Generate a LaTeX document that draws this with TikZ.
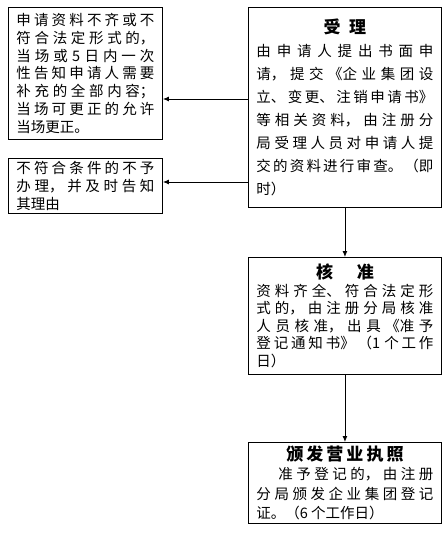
\documentclass[tikz,border=0pt]{standalone}
\usepackage{fontspec}
\setmainfont{Noto Sans CJK SC}
\XeTeXlinebreaklocale "zh"
\XeTeXlinebreakskip=0pt plus 6pt
\tolerance=10000
\hbadness=10000
\usetikzlibrary{arrows.meta}

\begin{document}
\begin{tikzpicture}[x=1pt,y=-1pt,line width=0.9pt,
    every node/.style={draw,rectangle,anchor=north west,align=justify,inner xsep=8pt,inner ysep=0pt},
    bigbox/.style={text width=177pt},
    sidebox/.style={text width=138pt,font={\fontsize{14.5pt}{17.8pt}\selectfont}},
    arr/.style={-{Latex[length=6pt,width=5pt]}}
    ]
    \useasboundingbox (0,0) rectangle (445,533);

    \node (accept) [bigbox,minimum height=200pt,font={\fontsize{14.5pt}{23pt}\selectfont}] at (248,7)
      {\centerline{\fontsize{17pt}{17pt}\selectfont\bfseries 受\hspace{0.5em}理}
       由申请人提出书面申\linebreak
       请，提交《企业集团设\linebreak
       立、变更、注销申请书》\linebreak
       等相关资料，由注册分\linebreak
       局受理人员对申请人提\linebreak
       交的资料进行审查。（即\linebreak
       时）};
    \node (check) [bigbox,minimum height=117pt,font={\fontsize{14.5pt}{17.5pt}\selectfont}] at (248,257)
      {\centerline{\fontsize{17pt}{17pt}\selectfont\bfseries 核\hspace{1.4em}准}
       资料齐全、符合法定形\linebreak
       式的，由注册分局核准\linebreak
       人员核准，出具《准予\linebreak
       登记通知书》（1 个工作\linebreak
       日）};
    \node (issue) [bigbox,minimum height=81pt,font={\fontsize{14.5pt}{19.5pt}\selectfont}] at (248,442)
      {\centerline{\fontsize{17pt}{17pt}\selectfont\bfseries\addfontfeature{LetterSpace=18}颁发营业执照}
       \hspace*{22pt}准予登记的，由注册\linebreak
       分局颁发企业集团登记\linebreak
       证。（6 个工作日）};
    \node (left1) [sidebox,minimum height=132pt] at (8,7)
      {申请资料不齐或不\linebreak
       符合法定形式的，\linebreak
       当场或 5 日内一次\linebreak
       性告知申请人需要\linebreak
       补充的全部内容；\linebreak
       当场可更正的允许\linebreak
       当场更正。};
    \node (left2) [sidebox,minimum height=55pt] at (8,158)
      {不符合条件的不予\linebreak
       办理，并及时告知\linebreak
       其理由};

    % the edges
    \draw[arr] (accept.west |- 0,99) -- (left1.east |- 0,99);
    \draw[arr] (accept.west |- 0,182) -- (left2.east |- 0,182);
    \draw[arr] (accept) -- (check);
    \draw[arr] (check) -- (issue);
\end{tikzpicture}
\end{document}
